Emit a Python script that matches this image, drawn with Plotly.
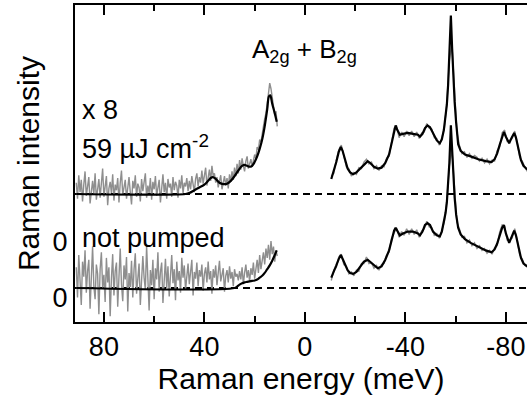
import plotly.graph_objects as go

# ---------------- data (values relative to each spectrum's own baseline) ----------------
# left (anti-Stokes) gray data, energy from 91 meV down to 11 meV in 0.5 meV steps
E_LEFT_START = 91.0
E_LEFT_STEP = -0.5
gray_up_left = [
    0.12, -0.05, 0.20, 0.02, 0.15, -0.08, 0.10, 0.24, -0.02, 0.08,
    0.18, -0.10, 0.05, 0.14, 0.00, 0.22, -0.06, 0.09, 0.16, -0.04,
    0.11, 0.27, -0.03, 0.07, 0.19, -0.12, 0.06, 0.13, 0.01, 0.21,
    -0.07, 0.10, 0.04, 0.17, -0.09, 0.12, 0.25, -0.01, 0.08, 0.15,
    -0.05, 0.09, 0.18, 0.02, -0.11, 0.14, 0.06, 0.20, -0.03, 0.11,
    0.07, -0.08, 0.16, 0.03, 0.12, 0.22, -0.04, 0.09, 0.01, 0.17,
    -0.06, 0.13, 0.05, 0.19, -0.02, 0.10, 0.15, -0.09, 0.08, 0.21,
    0.02, 0.12, -0.05, 0.16, 0.07, 0.11, -0.03, 0.18, 0.04, 0.13,
    0.09, -0.04, 0.15, 0.06, 0.20, 0.01, 0.12, 0.08, 0.17, 0.03,
    0.14, 0.05, 0.19, 0.10, 0.02, 0.16, 0.22, 0.08, 0.18, 0.12,
    0.25, 0.11, 0.20, 0.28, 0.09, 0.17, 0.26, 0.14, 0.30, 0.19,
    0.22, 0.12, 0.18, 0.07, 0.16, 0.20, 0.05, 0.14, 0.19, 0.09,
    0.17, 0.06, 0.21, 0.13, 0.24, 0.15, 0.28, 0.19, 0.32, 0.22,
    0.36, 0.26, 0.38, 0.30, 0.24, 0.35, 0.40, 0.27, 0.33, 0.37,
    0.29, 0.36, 0.42, 0.38, 0.50, 0.47, 0.58, 0.55, 0.66, 0.72,
    0.80, 0.86, 0.96, 1.05, 1.18, 1.12, 1.02, 0.92, 0.84, 0.88,
    0.72,
]
gray_lo_left = [
    0.22, -0.10, 0.35, 0.05, -0.18, 0.28, 0.12, 0.40, -0.05, 0.18,
    0.30, -0.22, 0.08, 0.44, 0.02, -0.12, 0.25, 0.15, -0.28, 0.20,
    0.38, 0.00, 0.14, -0.15, 0.32, 0.06, 0.22, -0.30, 0.10, 0.36,
    -0.08, 0.18, 0.27, -0.20, 0.12, 0.42, 0.04, -0.14, 0.24, 0.09,
    0.33, -0.25, 0.16, 0.01, 0.29, -0.10, 0.20, 0.37, -0.06, 0.13,
    0.26, -0.18, 0.07, 0.34, 0.11, -0.02, 0.45, 0.15, -0.24, 0.19,
    0.03, 0.30, -0.12, 0.21, 0.09, 0.38, -0.04, 0.17, 0.27, -0.16,
    0.12, 0.31, 0.00, 0.23, -0.09, 0.16, 0.35, 0.05, 0.20, -0.13,
    0.28, 0.08, 0.18, -0.05, 0.32, 0.11, 0.24, -0.02, 0.14, 0.26,
    0.04, 0.21, 0.30, -0.08, 0.17, 0.10, 0.27, 0.02, 0.19, 0.12,
    0.25, -0.03, 0.15, 0.22, 0.06, 0.28, 0.09, 0.18, -0.06, 0.20,
    0.11, 0.24, 0.03, 0.16, 0.29, 0.07, 0.14, 0.21, -0.04, 0.13,
    0.19, 0.06, 0.23, 0.10, 0.17, 0.02, 0.20, 0.12, 0.15, 0.08,
    0.18, 0.09, 0.22, 0.04, 0.16, 0.25, 0.11, 0.19, 0.07, 0.21,
    0.14, 0.27, 0.10, 0.23, 0.30, 0.16, 0.35, 0.20, 0.28, 0.38,
    0.25, 0.42, 0.32, 0.46, 0.30, 0.50, 0.36, 0.44, 0.28, 0.40,
    0.34,
]

# right (Stokes) gray data, energy from -10.5 meV to -88.5 meV in 1 meV steps
E_RIGHT_START = -10.5
E_RIGHT_STEP = -1.0
gray_up_right = [
    0.19, 0.22, 0.36, 0.47, 0.52, 0.42, 0.29, 0.27, 0.19, 0.23,
    0.21, 0.28, 0.27, 0.34, 0.37, 0.32, 0.34, 0.27, 0.30, 0.25,
    0.30, 0.29, 0.38, 0.40, 0.55, 0.70, 0.72, 0.60, 0.66, 0.61,
    0.67, 0.62, 0.67, 0.61, 0.66, 0.59, 0.65, 0.66, 0.75, 0.70,
    0.69, 0.60, 0.59, 0.52, 0.60, 0.70, 0.97, 1.42, 1.60, 1.05,
    0.66, 0.52, 0.43, 0.45, 0.39, 0.43, 0.38, 0.41, 0.39, 0.35,
    0.38, 0.33, 0.37, 0.32, 0.36, 0.35, 0.46, 0.50, 0.65, 0.68,
    0.56, 0.57, 0.59, 0.67, 0.55, 0.39, 0.35, 0.29, 0.24,
]
gray_lo_right = [
    0.08, 0.19, 0.22, 0.33, 0.36, 0.25, 0.23, 0.15, 0.17, 0.13,
    0.19, 0.18, 0.26, 0.26, 0.33, 0.26, 0.27, 0.21, 0.24, 0.19,
    0.25, 0.26, 0.35, 0.38, 0.53, 0.59, 0.64, 0.54, 0.60, 0.56,
    0.63, 0.57, 0.63, 0.57, 0.62, 0.54, 0.61, 0.63, 0.71, 0.65,
    0.64, 0.56, 0.58, 0.53, 0.62, 0.70, 0.93, 1.30, 1.48, 1.03,
    0.70, 0.63, 0.54, 0.55, 0.48, 0.51, 0.45, 0.48, 0.42, 0.45,
    0.40, 0.42, 0.37, 0.40, 0.36, 0.43, 0.45, 0.59, 0.67, 0.66,
    0.51, 0.51, 0.53, 0.63, 0.51, 0.35, 0.31, 0.24, 0.22,
]

# fitted curves (black)
fit_up_left_E = [91, 47.5, 46, 44, 42, 40, 38.5, 37.5, 36.6, 35.5, 34, 32.5, 31, 29.5, 28,
                 26.5, 25, 24, 23, 22, 21, 20, 19, 18, 17, 16, 15, 14.3, 13.8, 13, 12, 11.2]
fit_up_left_I = [0, 0, 0.01, 0.04, 0.07, 0.10, 0.14, 0.17, 0.18, 0.16, 0.12, 0.105, 0.11, 0.14, 0.19,
                 0.25, 0.30, 0.31, 0.30, 0.29, 0.30, 0.34, 0.40, 0.48, 0.58, 0.72, 0.90, 1.04, 1.05, 0.96, 0.86, 0.77]
fit_lo_left_E = [91, 28, 27, 26, 25, 24, 23, 22, 21, 20, 19, 18, 17, 16, 15, 14, 13, 12, 11.2]
fit_lo_left_I = [0, 0, 0.015, 0.035, 0.05, 0.06, 0.065, 0.07, 0.075, 0.08, 0.09, 0.11, 0.13, 0.16,
                 0.20, 0.24, 0.29, 0.35, 0.40]

fit_right_E = [-10.5, -11.5, -12.5, -13.5, -14.3, -15, -16, -17, -18, -19.2, -20.5, -22, -23.5, -25,
               -26, -27.5, -29, -30.5, -32, -33.5, -34.7, -35.5, -36.1, -36.8, -37.8, -39, -41, -43,
               -45, -45.8, -46.8, -47.8, -48.8, -49.8, -51, -52.5, -53.7, -54.5, -55.3, -56, -56.5,
               -57, -57.5, -58.1, -58.6, -59.1, -59.6, -60.2, -61, -62, -63.7, -66, -69, -72, -74.3,
               -75.5, -76.5, -77.5, -78.5, -79.2, -80, -81.3, -82.3, -83.3, -84, -85, -86, -87, -88.5]
fit_up_right_I = [0.16, 0.24, 0.34, 0.45, 0.50, 0.46, 0.35, 0.27, 0.23, 0.21, 0.23, 0.27, 0.32, 0.35,
                  0.33, 0.29, 0.27, 0.28, 0.33, 0.42, 0.56, 0.68, 0.73, 0.68, 0.63, 0.64, 0.65, 0.64,
                  0.63, 0.61, 0.64, 0.70, 0.73, 0.71, 0.65, 0.57, 0.54, 0.58, 0.68, 0.82, 0.95,
                  1.16, 1.45, 1.90, 1.55, 1.22, 0.98, 0.76, 0.53, 0.46, 0.42, 0.40, 0.37, 0.35, 0.34,
                  0.37, 0.43, 0.52, 0.62, 0.66, 0.61, 0.54, 0.60, 0.65, 0.60, 0.46, 0.36, 0.30, 0.26]
fit_lo_right_I = [0.11, 0.17, 0.24, 0.31, 0.35, 0.31, 0.24, 0.19, 0.16, 0.15, 0.17, 0.22, 0.28, 0.30,
                  0.28, 0.24, 0.21, 0.23, 0.30, 0.40, 0.53, 0.61, 0.64, 0.60, 0.56, 0.58, 0.60, 0.60,
                  0.58, 0.56, 0.60, 0.67, 0.69, 0.67, 0.60, 0.56, 0.55, 0.60, 0.69, 0.80, 0.91,
                  1.09, 1.33, 1.73, 1.45, 1.16, 0.96, 0.78, 0.64, 0.57, 0.52, 0.48, 0.44, 0.40, 0.38,
                  0.41, 0.47, 0.56, 0.64, 0.67, 0.58, 0.48, 0.54, 0.61, 0.56, 0.42, 0.32, 0.26, 0.23]

x_tick_major = [80, 40, 0, -40, -80]
x_tick_labels = ["80", "40", "0", "-40", "-80"]
y_tick_vals = [-0.106, 0.489]
y_tick_labels = ["0", "0"]

# ---------------- layout constants ----------------
W, H = 527, 404
ML, MR, MT, MB = 75, 0, 5, 82
UP_OFFSET = 1.0           # vertical offset of the pumped spectrum
X_RANGE = [91.5, -88.4]
Y_RANGE = [-0.362, 3.011]
GRAY = "#8e8e8e"
FONT = "Liberation Sans, Arial, sans-serif"

E_left = [E_LEFT_START + E_LEFT_STEP * i for i in range(len(gray_up_left))]
E_right = [E_RIGHT_START + E_RIGHT_STEP * i for i in range(len(gray_up_right))]

def shift(vals, off):
    return [v + off for v in vals]

fig = go.Figure()

# gray measured data
for xs, ys, off in [
    (E_left, gray_lo_left, 0.0), (E_right, gray_lo_right, 0.0),
    (E_left, gray_up_left, UP_OFFSET), (E_right, gray_up_right, UP_OFFSET),
]:
    fig.add_trace(go.Scatter(x=xs, y=shift(ys, off), mode="lines",
                             line=dict(color=GRAY, width=1.4), hoverinfo="skip"))

# black fits
for xs, ys, off, shape in [
    (fit_lo_left_E, fit_lo_left_I, 0.0, "spline"),
    (fit_right_E, fit_lo_right_I, 0.0, "linear"),
    (fit_up_left_E, fit_up_left_I, UP_OFFSET, "spline"),
    (fit_right_E, fit_up_right_I, UP_OFFSET, "linear"),
]:
    fig.add_trace(go.Scatter(x=xs, y=shift(ys, off), mode="lines",
                             line=dict(color="black", width=2.2, shape=shape), hoverinfo="skip"))

# dashed baselines
for off in [0.0, UP_OFFSET]:
    fig.add_shape(type="line", xref="paper", x0=0, x1=1, yref="y", y0=off, y1=off,
                  line=dict(color="black", width=1.8, dash="7px,5px"), layer="below")

PW = W - ML - MR
PH = H - MT - MB
def px(xp):
    return (xp - ML) / PW
def py(yp):
    return (H - MB - yp) / PH

ann_font = dict(family=FONT, size=27, color="black")
fig.add_annotation(x=px(80), y=py(110), xref="paper", yref="paper", text="x 8",
                   showarrow=False, xanchor="left", yanchor="middle", font=ann_font)
fig.add_annotation(x=px(80), y=py(147), xref="paper", yref="paper",
                   text="59 µJ cm<sup>-2</sup>", showarrow=False, xanchor="left",
                   yanchor="middle", font=ann_font)
fig.add_annotation(x=px(80), y=py(238), xref="paper", yref="paper", text="not pumped",
                   showarrow=False, xanchor="left", yanchor="middle", font=ann_font)
fig.add_annotation(x=px(250), y=py(50), xref="paper", yref="paper",
                   text="A<sub>2g</sub> + B<sub>2g</sub>", showarrow=False, xanchor="left",
                   yanchor="middle", font=dict(family=FONT, size=26, color="black"))

fig.update_layout(
    width=W, height=H, autosize=False,
    margin=dict(l=ML, r=MR, t=MT, b=MB, pad=0, autoexpand=False),
    paper_bgcolor="white", plot_bgcolor="white",
    showlegend=False,
    font=dict(family=FONT, size=27, color="black"),
)
fig.update_xaxes(
    range=X_RANGE, tickvals=x_tick_major, ticktext=x_tick_labels,
    ticks="inside", ticklen=10, tickwidth=1.8, tickcolor="black",
    minor=dict(dtick=20, tick0=0, ticks="inside", ticklen=6, tickwidth=1.8, tickcolor="black"),
    showline=True, linecolor="black", linewidth=2, mirror="ticks",
    showgrid=False, zeroline=False, automargin=False,
    tickfont=dict(family=FONT, size=27),
    title=dict(text="Raman energy (meV)", font=dict(family=FONT, size=30), standoff=6),
)
fig.update_yaxes(
    range=Y_RANGE, tickvals=y_tick_vals, ticktext=y_tick_labels, ticks="",
    showline=True, linecolor="black", linewidth=2, mirror=False,
    showgrid=False, zeroline=False, automargin=False,
    tickfont=dict(family=FONT, size=27),
    title=dict(text="Raman intensity", font=dict(family=FONT, size=30), standoff=4),
)

fig.write_html("out.html", config={"displayModeBar": False, "responsive": False},
               post_script="document.body.style.margin='0';")
